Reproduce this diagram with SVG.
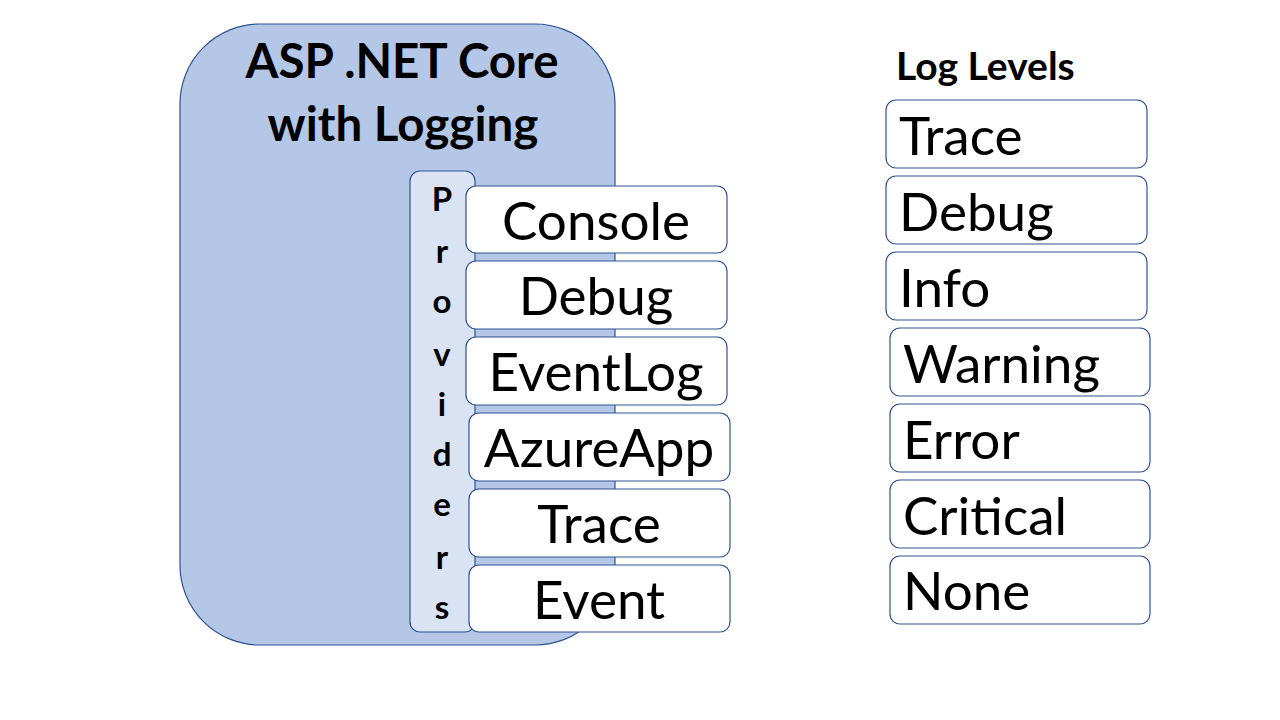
<svg xmlns="http://www.w3.org/2000/svg" width="1280" height="720" viewBox="0 0 1280 720">
<style>
.t{font-family:Lato,"Open Sans","Liberation Sans",sans-serif;fill:#000}
.b{font-weight:bold}
.box{fill:#fff;stroke:#2f528f;stroke-width:1.2}
.big{font-size:53px}
.c{text-anchor:middle}
</style>
<rect width="1280" height="720" fill="#fff"/>
<g id="app">
<rect x="180" y="24" width="435" height="621" rx="80" ry="80" fill="#b4c7e7" stroke="#2f528f" stroke-width="1.2"/>
<text class="t b c" x="402" y="78" font-size="47.5">ASP .NET Core</text>
<text class="t b c" x="403" y="141" font-size="47.5">with Logging</text>
</g>
<g id="providers">
<rect x="410" y="171" width="65" height="461" rx="10" fill="#dae3f3" stroke="#2f528f" stroke-width="1.2"/>
<g class="t b c" font-size="33">
<text x="442" y="211">P</text>
<text x="442" y="263">r</text>
<text x="442" y="313">o</text>
<text x="442" y="366">v</text>
<text x="442" y="416">i</text>
<text x="442" y="466">d</text>
<text x="442" y="516">e</text>
<text x="442" y="569">r</text>
<text x="442" y="619">s</text>
</g>
</g>
<g id="p-console"><rect class="box" x="466" y="186" width="261" height="67" rx="10"/><text class="t big c" x="596" y="240">Console</text></g>
<g id="p-debug"><rect class="box" x="466" y="261" width="261" height="68" rx="10"/><text class="t big c" x="596" y="315">Debug</text></g>
<g id="p-eventlog"><rect class="box" x="466" y="337" width="261" height="68" rx="10"/><text class="t big c" x="596" y="391">EventLog</text></g>
<g id="p-azureapp"><rect class="box" x="469" y="413" width="261" height="68" rx="10"/><text class="t big c" x="599" y="467">AzureApp</text></g>
<g id="p-trace"><rect class="box" x="469" y="489" width="261" height="68" rx="10"/><text class="t big c" x="599" y="543">Trace</text></g>
<g id="p-event"><rect class="box" x="469" y="565" width="261" height="67" rx="10"/><text class="t big c" x="599" y="619">Event</text></g>
<g id="levels-title"><text class="t b" x="896" y="80" font-size="39">Log Levels</text></g>
<g id="l-trace"><rect class="box" x="886" y="100" width="261" height="68" rx="10"/><text class="t big" x="899" y="155">Trace</text></g>
<g id="l-debug"><rect class="box" x="886" y="176" width="261" height="68" rx="10"/><text class="t big" x="899" y="231">Debug</text></g>
<g id="l-info"><rect class="box" x="886" y="252" width="261" height="68" rx="10"/><text class="t big" x="899" y="307">Info</text></g>
<g id="l-warning"><rect class="box" x="890" y="328" width="260" height="68" rx="10"/><text class="t big" x="903" y="383">Warning</text></g>
<g id="l-error"><rect class="box" x="890" y="404" width="260" height="68" rx="10"/><text class="t big" x="903" y="459">Error</text></g>
<g id="l-critical"><rect class="box" x="890" y="480" width="260" height="68" rx="10"/><text class="t big" x="903" y="535">Critical</text></g>
<g id="l-none"><rect class="box" x="890" y="556" width="260" height="68" rx="10"/><text class="t big" x="903" y="610">None</text></g>
</svg>
